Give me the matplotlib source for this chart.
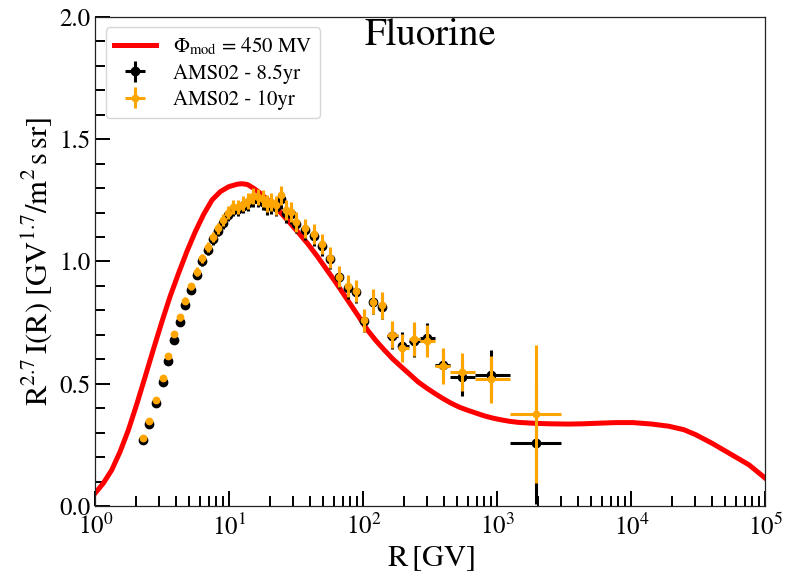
import numpy as np
import matplotlib
matplotlib.use("Agg")
import matplotlib.pyplot as plt
from matplotlib.ticker import LogLocator, MultipleLocator, NullFormatter, FormatStrFormatter

# ---- model curve (Phi_mod = 450 MV) ----
model_R = [1.0, 1.144, 1.322, 1.526, 1.761, 2.035, 2.349, 2.71, 3.133, 3.614, 4.17,
           4.82, 5.56, 6.42, 7.42, 8.56, 9.88, 11.42, 12.4, 13.6, 15.2, 17.0, 19.2,
           22.8, 27.0, 32.0, 38.2, 45.4, 52.0, 60.4, 70.0, 80.6, 92.0, 107, 124,
           143, 165, 191, 222, 255, 295, 339, 390, 452, 525, 603, 700, 804, 930,
           1072, 1240, 1429, 1904, 2500, 3388, 4300, 5357, 7570, 10260, 14250,
           19100, 24600, 30060, 40090, 53460, 75500, 100000]
model_F = [0.054, 0.093, 0.147, 0.222, 0.311, 0.417, 0.529, 0.642, 0.754, 0.859, 0.952,
           1.042, 1.122, 1.193, 1.252, 1.286, 1.306, 1.316, 1.318, 1.315, 1.299, 1.279,
           1.252, 1.214, 1.170, 1.124, 1.074, 1.020, 0.974, 0.924, 0.872, 0.822, 0.775,
           0.720, 0.676, 0.638, 0.602, 0.570, 0.538, 0.508, 0.483, 0.461, 0.440, 0.420,
           0.403, 0.391, 0.379, 0.368, 0.359, 0.352, 0.346, 0.342, 0.338, 0.336, 0.335,
           0.336, 0.338, 0.341, 0.341, 0.335, 0.326, 0.312, 0.292, 0.256, 0.216, 0.168,
           0.113]

# ---- data: rigidity bin centres ----
R = [2.28, 2.52, 2.82, 3.17, 3.45, 3.83, 4.24, 4.68, 5.15, 5.69, 6.25, 6.88, 7.55,
     8.23, 8.97, 9.71, 10.7, 11.5, 12.6, 13.7, 15.0, 16.3, 17.8, 19.2, 20.5, 22.4,
     24.1, 26.3, 28.6, 31.6, 36.5, 42.4, 48.9, 56.4, 65.9, 76.2, 87.9, 101, 118,
     138, 163, 194, 240, 297, 392, 547, 902, 1936]

# AMS02 - 10yr
F10 = [0.277, 0.347, 0.435, 0.523, 0.612, 0.705, 0.771, 0.839, 0.899, 0.959, 1.013,
       1.060, 1.101, 1.135, 1.169, 1.199, 1.223, 1.223, 1.237, 1.248, 1.267, 1.264,
       1.257, 1.237, 1.244, 1.230, 1.271, 1.210, 1.203, 1.162, 1.135, 1.112, 1.070,
       1.016, 0.938, 0.900, 0.881, 0.759, 0.836, 0.820, 0.701, 0.646, 0.683, 0.676,
       0.572, 0.549, 0.518, 0.376]
E10 = [0.008, 0.008, 0.009, 0.010, 0.011, 0.012, 0.013, 0.014, 0.015, 0.017, 0.018,
       0.020, 0.021, 0.022, 0.024, 0.026, 0.028, 0.030, 0.031, 0.032, 0.033, 0.034,
       0.035, 0.036, 0.037, 0.038, 0.039, 0.040, 0.040, 0.040, 0.040, 0.040, 0.041,
       0.042, 0.043, 0.044, 0.045, 0.046, 0.052, 0.054, 0.056, 0.058, 0.068, 0.066,
       0.074, 0.078, 0.095, 0.282]

# AMS02 - 8.5yr
F85 = [0.270, 0.335, 0.420, 0.507, 0.595, 0.680, 0.752, 0.820, 0.885, 0.945, 1.000,
       1.048, 1.090, 1.125, 1.158, 1.190, 1.212, 1.215, 1.228, 1.240, 1.255, 1.255,
       1.245, 1.228, 1.233, 1.222, 1.255, 1.198, 1.193, 1.155, 1.128, 1.105, 1.063,
       1.010, 0.935, 0.890, 0.875, 0.757, 0.835, 0.815, 0.695, 0.655, 0.673, 0.685,
       0.575, 0.526, 0.536, 0.256]
E85 = [0.008, 0.008, 0.009, 0.010, 0.011, 0.012, 0.013, 0.014, 0.015, 0.017, 0.018,
       0.020, 0.021, 0.022, 0.024, 0.026, 0.028, 0.030, 0.031, 0.032, 0.033, 0.034,
       0.035, 0.036, 0.037, 0.038, 0.039, 0.040, 0.040, 0.040, 0.040, 0.040, 0.041,
       0.042, 0.043, 0.044, 0.045, 0.046, 0.050, 0.052, 0.054, 0.056, 0.062, 0.064,
       0.060, 0.076, 0.100, 0.246]

# bin edges of the wide high-rigidity bins (last 8 points)
wide_lo = [150, 180, 217, 262, 339, 444, 676, 1236]
wide_hi = [180, 217, 262, 339, 444, 676, 1236, 3000]

R = np.array(R)
n_narrow = len(R) - len(wide_lo)
xlo = np.concatenate([np.zeros(n_narrow), R[n_narrow:] - np.array(wide_lo)])
xhi = np.concatenate([np.zeros(n_narrow), np.array(wide_hi) - R[n_narrow:]])

plt.rcParams['font.family'] = ['STIXGeneral', 'DejaVu Serif']
plt.rcParams['mathtext.fontset'] = 'stix'

fig = plt.figure(figsize=(7.91, 5.88), dpi=100)
ax = fig.add_axes([0.1207, 0.1395, 0.847, 0.8316])

ax.plot(model_R, model_F, color='red', lw=3.6, zorder=2,
        label=r'$\Phi_{\rm mod}$ = 450 MV', solid_joinstyle='round')
ax.errorbar(R, F85, yerr=E85, xerr=[xlo, xhi], fmt='o', color='black',
            ms=6.0, elinewidth=2.2, capsize=0, zorder=3, label='AMS02 - 8.5yr')
ax.errorbar(R, F10, yerr=E10, xerr=[xlo, xhi], fmt='o', color='orange',
            ms=4.6, elinewidth=2.2, capsize=0, zorder=4, label='AMS02 - 10yr')

ax.set_xscale('log')
ax.set_xlim(1, 1e5)
ax.set_ylim(0, 2.0)
ax.yaxis.set_major_locator(MultipleLocator(0.5))
ax.yaxis.set_minor_locator(MultipleLocator(0.1))
ax.xaxis.set_major_locator(LogLocator(base=10, numticks=10))
ax.xaxis.set_minor_locator(LogLocator(base=10, subs=np.arange(2, 10), numticks=20))
ax.xaxis.set_minor_formatter(NullFormatter())
ax.yaxis.set_major_formatter(FormatStrFormatter('%.1f'))

ax.tick_params(which='both', direction='in', top=False, right=False,
               labelsize=18, width=1.4)
ax.tick_params(which='major', length=10.5)
ax.tick_params(which='minor', length=7)
ax.tick_params(axis='x', pad=6)
for s in ax.spines.values():
    s.set_linewidth(0.9)
    s.set_color('#222222')

ax.set_xlabel(r'$\mathrm{R}\,\left[\mathrm{GV}\right]$', fontsize=22, labelpad=3)
ax.set_ylabel(r'$\mathrm{R^{2.7}\,I(R)}\ \left[\mathrm{GV^{1.7}/m^2\,s\,sr}\right]$',
              fontsize=22, labelpad=4)

ax.text(0.5, 0.962, 'Fluorine', transform=ax.transAxes, ha='center', va='center',
        fontsize=28)

leg = ax.legend(loc='upper left', fontsize=15, frameon=True, handlelength=2.0,
                borderaxespad=0.5, labelspacing=0.3)
leg.get_frame().set_edgecolor('0.8')

fig.savefig('out.png', dpi=100)
